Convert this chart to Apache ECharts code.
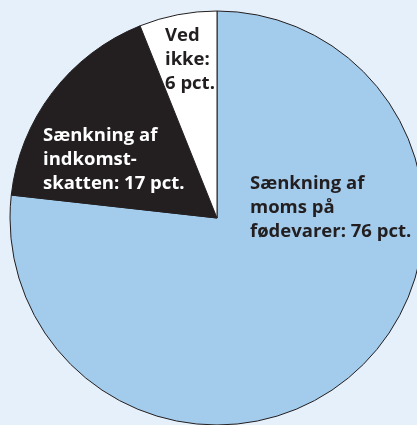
<!DOCTYPE html>
<html>
<head>
<meta charset="utf-8">
<script src="https://cdn.jsdelivr.net/npm/echarts@6/dist/echarts.min.js"></script>
<style>
  html, body { margin: 0; padding: 0; background: #e6f0fa; }
  #chart { width: 417px; height: 425px; }
</style>
</head>
<body>
<div id="chart"></div>
<script>
// andele i pct.
const names = [
  "Sænkning af\nmoms på\nfødevarer: 76 pct.",
  "Sænkning af\nindkomst-\nskatten: 17 pct.",
  "Ved\nikke:\n6 pct."
];
const values = [76, 17, 6];

const colors = ["#a3cbec", "#231f20", "#ffffff"];
const textColors = ["#231f20", "#ffffff", "#231f20"];
// label top-left corners (px)
const labelPos = [[250, 172], [43, 124], [165, 24]];

const chart = echarts.init(document.getElementById("chart"));

chart.setOption({
  backgroundColor: "#e6f0fa",
  animation: false,
  series: [
    {
      type: "pie",
      center: [217, 218],
      radius: 207,
      startAngle: 90,
      clockwise: true,
      silent: true,
      itemStyle: { borderColor: "#231f20", borderWidth: 1 },
      label: {
        show: true,
        position: "inside",
        formatter: "{b}",
        fontFamily: "Open Sans",
        fontWeight: "bold",
        fontSize: 18.5,
        lineHeight: 24,
        align: "left"
      },
      labelLine: { show: false },
      labelLayout: (p) => ({
        x: labelPos[p.dataIndex][0],
        y: labelPos[p.dataIndex][1],
        align: "left",
        verticalAlign: "top"
      }),
      data: values.map((v, i) => ({
        name: names[i],
        value: v,
        itemStyle: { color: colors[i] },
        label: { color: textColors[i] }
      }))
    }
  ]
});
</script>
</body>
</html>
